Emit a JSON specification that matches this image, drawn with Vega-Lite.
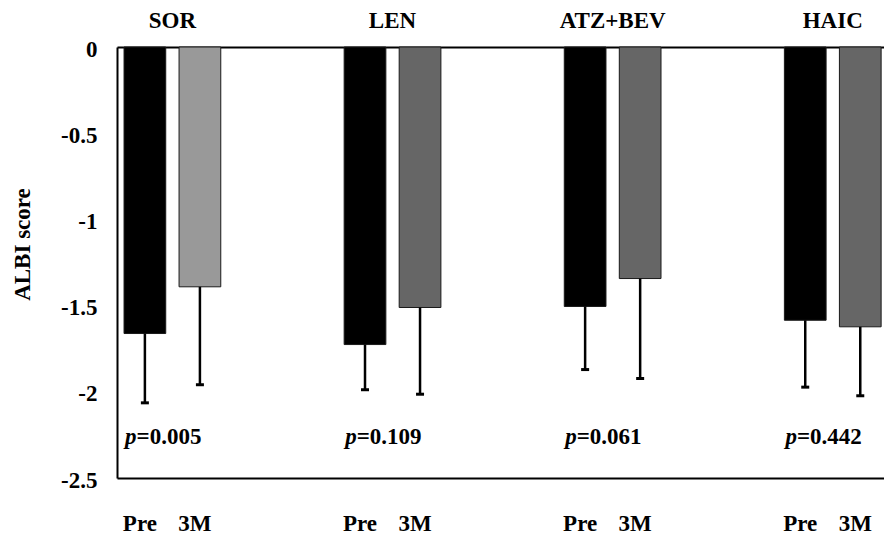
{
  "$schema": "https://vega.github.io/schema/vega-lite/v6.json",
  "width": 767,
  "height": 431,
  "autosize": {"type": "none"},
  "padding": {"left": 117, "top": 47, "right": 0, "bottom": 59},
  "background": "white",
  "config": {"view": {"stroke": null}, "font": "Liberation Serif"},
  "datasets": {
    "bars": [
      {"slot": "SOR_Pre", "group": "SOR", "time": "Pre", "mean": -1.662, "lower": -2.064},
      {"slot": "SOR_3M", "group": "SOR", "time": "3M", "mean": -1.391, "lower": -1.959},
      {"slot": "LEN_Pre", "group": "LEN", "time": "Pre", "mean": -1.726, "lower": -1.988},
      {"slot": "LEN_3M", "group": "LEN", "time": "3M", "mean": -1.511, "lower": -2.014},
      {"slot": "ATZ+BEV_Pre", "group": "ATZ+BEV", "time": "Pre", "mean": -1.505, "lower": -1.871},
      {"slot": "ATZ+BEV_3M", "group": "ATZ+BEV", "time": "3M", "mean": -1.343, "lower": -1.923},
      {"slot": "HAIC_Pre", "group": "HAIC", "time": "Pre", "mean": -1.585, "lower": -1.973},
      {"slot": "HAIC_3M", "group": "HAIC", "time": "3M", "mean": -1.623, "lower": -2.023}
    ],
    "pvals": [
      {"slot": "SOR_Pre", "pv": "=0.005"},
      {"slot": "LEN_Pre", "pv": "=0.109"},
      {"slot": "ATZ+BEV_Pre", "pv": "=0.061"},
      {"slot": "HAIC_Pre", "pv": "=0.442"}
    ]
  },
  "layer": [
    {
      "data": {"name": "bars"},
      "mark": {"type": "bar", "stroke": "#1a1a1a", "strokeWidth": 1},
      "encoding": {
        "x": {
          "field": "slot", "type": "nominal", "sort": null,
          "scale": {"domain": ["SOR_Pre", "SOR_3M", "g1a", "g1b", "LEN_Pre", "LEN_3M", "g2a", "g2b", "ATZ+BEV_Pre", "ATZ+BEV_3M", "g3a", "g3b", "HAIC_Pre", "HAIC_3M"], "paddingInner": 0.242, "paddingOuter": 0.09, "align": 0.71},
          "axis": {
            "orient": "bottom", "title": null, "domain": true, "domainColor": "black", "domainWidth": 2,
            "ticks": false, "grid": false, "labelAngle": 0, "labelOverlap": false,
            "labelExpr": "indexof(datum.value, '_') > 0 ? split(datum.value, '_')[1] : ''",
            "labelOffset": -5, "labelPadding": 52, "labelBaseline": "alphabetic",
            "labelFont": "Liberation Serif", "labelFontWeight": "bold", "labelFontSize": 23, "labelColor": "black"
          }
        },
        "y": {
          "field": "mean", "type": "quantitative",
          "scale": {"domain": [-2.5, 0], "nice": false},
          "axis": {
            "orient": "left", "values": [0, -0.5, -1, -1.5, -2, -2.5],
            "labelExpr": "'' + datum.value",
            "domain": true, "domainColor": "black", "domainWidth": 2,
            "ticks": false, "grid": false, "labelPadding": 20, "labelOffset": 2,
            "labelFont": "Liberation Serif", "labelFontWeight": "bold", "labelFontSize": 23, "labelColor": "black",
            "title": "ALBI score", "titleFont": "Liberation Serif", "titleFontSize": 23, "titleFontWeight": "bold", "titleColor": "black",
            "titleX": -95, "titleY": 197, "titleAngle": 270, "titleAlign": "center", "titleBaseline": "middle"
          }
        },
        "color": {
          "field": "slot", "type": "nominal", "legend": null,
          "scale": {"domain": ["SOR_Pre", "SOR_3M", "LEN_Pre", "LEN_3M", "ATZ+BEV_Pre", "ATZ+BEV_3M", "HAIC_Pre", "HAIC_3M"],
                    "range": ["#000000", "#999999", "#000000", "#666666", "#000000", "#666666", "#000000", "#666666"]}
        }
      }
    },
    {
      "data": {"name": "bars"},
      "mark": {"type": "rule", "color": "black", "strokeWidth": 2.5},
      "encoding": {
        "x": {
          "field": "slot", "type": "nominal", "sort": null,
          "scale": {"domain": ["SOR_Pre", "SOR_3M", "g1a", "g1b", "LEN_Pre", "LEN_3M", "g2a", "g2b", "ATZ+BEV_Pre", "ATZ+BEV_3M", "g3a", "g3b", "HAIC_Pre", "HAIC_3M"], "paddingInner": 0.242, "paddingOuter": 0.09, "align": 0.71},
          "axis": null
        },
        "y": {"field": "mean", "type": "quantitative"},
        "y2": {"field": "lower"}
      }
    },
    {
      "data": {"name": "bars"},
      "mark": {"type": "tick", "color": "black", "size": 8, "thickness": 3, "opacity": 1},
      "encoding": {
        "x": {
          "field": "slot", "type": "nominal", "sort": null,
          "scale": {"domain": ["SOR_Pre", "SOR_3M", "g1a", "g1b", "LEN_Pre", "LEN_3M", "g2a", "g2b", "ATZ+BEV_Pre", "ATZ+BEV_3M", "g3a", "g3b", "HAIC_Pre", "HAIC_3M"], "paddingInner": 0.242, "paddingOuter": 0.09, "align": 0.71},
          "axis": null
        },
        "y": {"field": "lower", "type": "quantitative"}
      }
    },
    {
      "data": {"name": "pvals"},
      "mark": {"type": "text", "text": "p", "font": "Liberation Serif", "fontStyle": "italic", "fontWeight": "bold", "fontSize": 23, "align": "left", "baseline": "alphabetic", "dx": 1, "color": "black"},
      "encoding": {
        "x": {
          "field": "slot", "type": "nominal", "sort": null, "bandPosition": 0,
          "scale": {"domain": ["SOR_Pre", "SOR_3M", "g1a", "g1b", "LEN_Pre", "LEN_3M", "g2a", "g2b", "ATZ+BEV_Pre", "ATZ+BEV_3M", "g3a", "g3b", "HAIC_Pre", "HAIC_3M"], "paddingInner": 0.242, "paddingOuter": 0.09, "align": 0.71},
          "axis": {
            "orient": "top", "title": null, "domain": true, "domainColor": "black", "domainWidth": 2,
            "ticks": false, "grid": false, "labelAngle": 0, "labelOverlap": false,
            "labelExpr": "indexof(datum.value, '_Pre') > 0 ? split(datum.value, '_')[0] : ''",
            "labelOffset": 27.5, "labelPadding": 20, "labelBaseline": "alphabetic",
            "labelFont": "Liberation Serif", "labelFontWeight": "bold", "labelFontSize": 23, "labelColor": "black"
          }
        },
        "y": {"datum": -2.3, "type": "quantitative"}
      }
    },
    {
      "data": {"name": "pvals"},
      "mark": {"type": "text", "font": "Liberation Serif", "fontWeight": "bold", "fontSize": 23, "align": "left", "baseline": "alphabetic", "dx": 12.5, "color": "black"},
      "encoding": {
        "x": {
          "field": "slot", "type": "nominal", "sort": null, "bandPosition": 0,
          "scale": {"domain": ["SOR_Pre", "SOR_3M", "g1a", "g1b", "LEN_Pre", "LEN_3M", "g2a", "g2b", "ATZ+BEV_Pre", "ATZ+BEV_3M", "g3a", "g3b", "HAIC_Pre", "HAIC_3M"], "paddingInner": 0.242, "paddingOuter": 0.09, "align": 0.71},
          "axis": null
        },
        "y": {"datum": -2.3, "type": "quantitative"},
        "text": {"field": "pv", "type": "nominal"}
      }
    }
  ],
  "resolve": {"axis": {"x": "independent"}}
}
